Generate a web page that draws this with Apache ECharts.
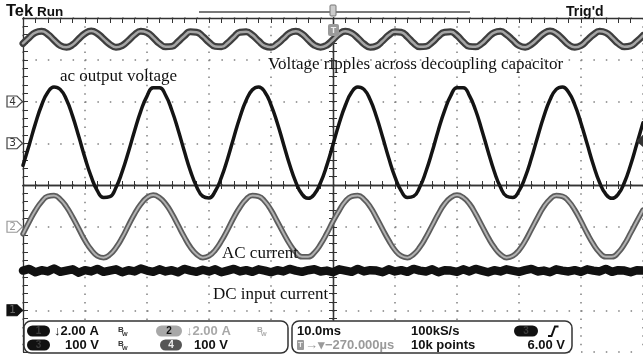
<!DOCTYPE html>
<html><head><meta charset="utf-8">
<script src="https://cdn.jsdelivr.net/npm/echarts@6/dist/echarts.min.js"></script>
<style>html,body{margin:0;padding:0;background:#fff}#c{width:643px;height:355px}</style>
</head><body><div id="c"></div>
<script>
// time in ms (10 ms/div, trigger at 0)
const timeMs = [-50,-49,-48,-47,-46,-45,-44,-43,-42,-41,-40,-39,-38,-37,-36,-35,-34,-33,-32,-31,-30,-29,-28,-27,-26,-25,-24,-23,-22,-21,-20,-19,-18,-17,-16,-15,-14,-13,-12,-11,-10,-9,-8,-7,-6,-5,-4,-3,-2,-1,0,1,2,3,4,5,6,7,8,9,10,11,12,13,14,15,16,17,18,19,20,21,22,23,24,25,26,27,28,29,30,31,32,33,34,35,36,37,38,39,40,41,42,43,44,45,46,47,48,49,50];
// trace positions in screen divisions
const rippleDiv = [3.39,3.53,3.65,3.68,3.61,3.47,3.34,3.30,3.36,3.50,
3.63,3.69,3.63,3.50,3.37,3.30,3.34,3.46,3.60,3.68,
3.65,3.53,3.39,3.31,3.32,3.43,3.57,3.67,3.66,3.56,
3.42,3.32,3.31,3.40,3.54,3.66,3.67,3.59,3.45,3.33,
3.30,3.38,3.51,3.64,3.68,3.62,3.48,3.35,3.30,3.35,
3.48,3.62,3.68,3.64,3.52,3.38,3.30,3.33,3.45,3.59,
3.67,3.66,3.55,3.40,3.31,3.32,3.42,3.56,3.66,3.67,
3.58,3.43,3.32,3.31,3.39,3.53,3.65,3.68,3.60,3.47,
3.34,3.30,3.37,3.50,3.63,3.69,3.63,3.50,3.36,3.30,
3.34,3.47,3.60,3.68,3.65,3.53,3.39,3.31,3.33,3.44,3.58];
const acVoltageDiv = [0.47,0.96,1.47,1.91,2.22,2.35,2.29,2.05,1.65,1.16,
0.65,0.20,-0.14,-0.30,-0.28,-0.06,0.32,0.79,1.30,1.77,
2.13,2.33,2.33,2.15,1.79,1.33,0.82,0.34,-0.04,-0.27,
-0.31,-0.15,0.18,0.63,1.14,1.63,2.03,2.28,2.35,2.23,
1.92,1.49,0.99,0.49,0.07,-0.22,-0.32,-0.22,0.06,0.47,
0.97,1.48,1.91,2.22,2.35,2.29,2.04,1.64,1.15,0.64,
0.19,-0.14,-0.30,-0.27,-0.05,0.33,0.80,1.32,1.78,2.14,
2.33,2.33,2.14,1.79,1.32,0.81,0.33,-0.05,-0.27,-0.30,
-0.14,0.19,0.64,1.15,1.64,2.04,2.29,2.35,2.22,1.92,
1.48,0.98,0.48,0.06,-0.22,-0.32,-0.22,0.06,0.48,0.98,1.49];
const acCurrentDiv = [-1.17,-0.88,-0.61,-0.40,-0.27,-0.25,-0.34,-0.52,-0.77,-1.05,
-1.33,-1.55,-1.70,-1.74,-1.67,-1.50,-1.26,-0.97,-0.69,-0.46,
-0.30,-0.24,-0.30,-0.45,-0.68,-0.96,-1.24,-1.49,-1.66,-1.74,
-1.70,-1.56,-1.34,-1.07,-0.78,-0.53,-0.34,-0.25,-0.27,-0.39,
-0.60,-0.87,-1.15,-1.41,-1.61,-1.72,-1.72,-1.62,-1.42,-1.16,
-0.87,-0.61,-0.39,-0.27,-0.25,-0.34,-0.52,-0.78,-1.06,-1.33,
-1.56,-1.70,-1.74,-1.66,-1.49,-1.25,-0.97,-0.69,-0.45,-0.30,
-0.24,-0.30,-0.45,-0.69,-0.97,-1.25,-1.49,-1.66,-1.74,-1.70,
-1.56,-1.34,-1.06,-0.78,-0.52,-0.34,-0.25,-0.27,-0.39,-0.60,
-0.87,-1.16,-1.42,-1.62,-1.72,-1.72,-1.62,-1.42,-1.15,-0.87,-0.60];
const dcCurrentDiv = [-2.05,-2.01,-2.09,-2.04,-2.07,-2.00,-2.08,-2.05,-2.02,-2.10,
-2.04,-2.07,-2.01,-2.08,-2.05,-2.02,-2.09,-2.04,-2.07,-2.00,
-2.05,-2.08,-2.02,-2.07,-2.04,-2.09,-2.01,-2.05,-2.08,-2.03,
-2.07,-2.02,-2.09,-2.05,-2.01,-2.07,-2.04,-2.08,-2.02,-2.05,
-2.09,-2.04,-2.07,-2.01,-2.05,-2.08,-2.04,-2.02,-2.07,-2.05,
-2.09,-2.02,-2.05,-2.08,-2.01,-2.07,-2.04,-2.05,-2.09,-2.02,
-2.07,-2.04,-2.08,-2.01,-2.05,-2.07,-2.02,-2.09,-2.04,-2.05,
-2.08,-2.02,-2.07,-2.01,-2.05,-2.09,-2.04,-2.07,-2.02,-2.05,
-2.08,-2.04,-2.01,-2.07,-2.05,-2.09,-2.02,-2.05,-2.07,-2.04,
-2.08,-2.02,-2.05,-2.07,-2.01,-2.08,-2.04,-2.05,-2.09,-2.04,-2.05];
// channel ground markers (divisions)
const channelNames = ['1','2','3','4'];
const channelLevels = [-3,-1,1,2];
const annotations = ['ac output voltage','Voltage ripples across decoupling capacitor','AC current','DC input current'];
const readoutRow1 = ['\u21932.00 A','\u21932.00 A','10.0ms','100kS/s'];
const readoutRow2 = ['100 V','100 V','\u2192\u25BE\u2212270.000\u00B5s','10k points','6.00 V'];

const pairs = arr => timeMs.map((t,i)=>[t,arr[i]]);
const chart = echarts.init(document.getElementById('c'), null, {renderer:'canvas'});
const G = {left:23, top:18, width:620, height:334};
const axCol = '#333';
const hiddenLab = {show:false};
const centerX = (pos)=>({gridIndex:0,type:'value',min:-50,max:50,interval:10,position:pos,
  axisLine:{onZero:true,lineStyle:{color:axCol,width:1.3}},
  axisTick:{show:true,inside:true,length:4,lineStyle:{color:axCol,width:1}},
  minorTick:{show:true,splitNumber:5,length:4,lineStyle:{color:axCol,width:1}},
  axisLabel:hiddenLab,splitLine:{show:false}});
const centerY = (pos)=>({gridIndex:0,type:'value',min:-4,max:4,interval:1,position:pos,
  axisLine:{onZero:true,lineStyle:{color:axCol,width:1.3}},
  axisTick:{show:true,inside:true,length:4,lineStyle:{color:axCol,width:1}},
  minorTick:{show:true,splitNumber:5,length:4,lineStyle:{color:axCol,width:1}},
  axisLabel:hiddenLab,splitLine:{show:false}});
const lineS = (arr,color,width,z,smooth)=>({type:'line',xAxisIndex:0,yAxisIndex:0,data:pairs(arr),
  showSymbol:false,symbol:'none',smooth:smooth,silent:true,z:z,lineStyle:{color:color,width:width,join:'round',cap:'round'}});

chart.setOption({
  animation:false,
  backgroundColor:'#fff',
  grid:[Object.assign({},G),Object.assign({},G)],
  xAxis:[centerX('bottom'),centerX('top'),
    {gridIndex:1,type:'value',min:-50,max:50,interval:10,position:'top',
     axisLine:{onZero:false,lineStyle:{color:axCol,width:1.3}},
     axisTick:{show:true,inside:true,length:5,lineStyle:{color:axCol}},
     minorTick:{show:true,splitNumber:5,length:5,lineStyle:{color:axCol}},
     axisLabel:hiddenLab,
     splitLine:{show:true,lineStyle:{color:'#808080',width:1.5,type:[1.5,6.85]}}}],
  yAxis:[centerY('left'),centerY('right'),
    {gridIndex:1,type:'value',min:-4,max:4,interval:1,position:'left',
     axisLine:{onZero:false,lineStyle:{color:axCol,width:1.3}},
     axisTick:{show:true,inside:true,length:5,lineStyle:{color:axCol}},
     minorTick:{show:true,splitNumber:5,length:5,lineStyle:{color:axCol}},
     axisLabel:hiddenLab,
     splitLine:{show:true,lineStyle:{color:'#808080',width:1.5,type:[1.5,10.9]}}}],
  series:[
    lineS(rippleDiv,'#3e3e3e',7,3,true),
    lineS(rippleDiv,'#a6a6a6',2.5,4,true),
    lineS(acVoltageDiv,'#141414',3.5,5,true),
    lineS(acCurrentDiv,'#5c5c5c',5.5,3,true),
    lineS(acCurrentDiv,'#b2b2b2',2,4,true),
    lineS(dcCurrentDiv,'#111',8.5,3,false)
  ]
});

const Z = 100;
const font = (sz,fam,w)=>(w||'bold')+' '+sz+'px '+(fam||'"Liberation Sans", Arial, sans-serif');
function txt(s,x,y,f,fill,align,va){
  return {type:'text',z:Z,x:x,y:y,style:{text:s,font:f,fill:fill,textAlign:align||'left',textVerticalAlign:va||'middle',align:align||'left',verticalAlign:va||'middle'}};
}
function rect(x,y,w,h,r,fill,stroke,lw){
  return {type:'rect',z:Z,shape:{x:x,y:y,width:w,height:h,r:r},style:{fill:fill,stroke:stroke||null,lineWidth:lw||0}};
}
function pill(x,y,w,label,fill,tcol){
  return [rect(x,y,w,11,5.5,fill), txt(label,x+w/2,y+6,font(10),tcol,'center')];
}
function bw(x,y,col){
  return [txt('B',x,y-1,font(8),col,'left'), txt('W',x+4,y+3,font(6),col,'left')];
}
const g = [];
// header
g.push(txt('Tek',6,11,font(16.5),'#111'));
g.push(txt('Run',37,12,font(13.5),'#111'));
g.push(txt("Trig'd",566,12,font(14),'#111'));
g.push({type:'line',z:Z,shape:{x1:199,y1:12,x2:470,y2:12},style:{stroke:'#7a7a7a',lineWidth:2}});
g.push(rect(330,5,6,11,1,'#ccc','#777',1));
g.push(rect(328,24,11,12,2,'#9a9a9a'));
g.push(txt('T',333.5,30.5,font(9),'#eee','center'));
// trigger level arrow at right
g.push({type:'polygon',z:Z,shape:{points:[[643,135],[636,141],[643,147]]},style:{fill:'#333'}});
// channel ground tags
const tagStyle = {'1':['#111','#111','#666'],'2':['#fff','#999','#999'],'3':['#fff','#444','#333'],'4':['#fff','#444','#333']};
channelNames.forEach((n,i)=>{
  const y = chart.convertToPixel({yAxisIndex:0}, channelLevels[i]);
  const s = tagStyle[n];
  g.push({type:'polygon',z:Z,shape:{points:[[7,y-5.5],[17,y-5.5],[22.5,y],[17,y+5.5],[7,y+5.5]]},style:{fill:s[0],stroke:s[1],lineWidth:1.2}});
  g.push(txt(n,12.5,y+0.5,font(10.5,'"DejaVu Sans", sans-serif','normal'),s[2],'center'));
});
// annotations (serif)
const serif = '17px "Liberation Serif", "Times New Roman", serif';
g.push(txt(annotations[0],60,77,serif,'#111'));
g.push(txt(annotations[1],268,65,serif,'#111'));
g.push(txt(annotations[2],222,254,serif,'#111'));
g.push(txt(annotations[3],213,295,serif,'#111'));
// readout panel
g.push(rect(24,321,264,32,7,'#fff','#333',1.5));
g.push(rect(292,321,280,32,7,'#fff','#333',1.5));
const r1 = 331, r2 = 345;
g.push(...pill(27,r1-5.5,23,'1','#111','#3a3a3a'));
g.push(txt(readoutRow1[0],54,r1,font(13),'#111'));
g.push(...bw(118,r1,'#333'));
g.push(...pill(156,r1-5.5,26,'2','#a8a8a8','#111'));
g.push(txt(readoutRow1[1],186,r1,font(13),'#a8a8a8'));
g.push(...bw(257,r1,'#aaa'));
g.push(...pill(27,r2-5.5,23,'3','#111','#3a3a3a'));
g.push(txt(readoutRow2[0],65,r2,font(13),'#111'));
g.push(...bw(118,r2,'#333'));
g.push(...pill(160,r2-5.5,22,'4','#555','#eee'));
g.push(txt(readoutRow2[1],194,r2,font(13),'#111'));
g.push(txt(readoutRow1[2],297,r1,font(13),'#111'));
g.push(txt(readoutRow1[3],411,r1,font(13),'#111'));
g.push(...pill(514,r1-5.5,24,'3','#111','#3a3a3a'));
g.push({type:'polyline',z:Z,shape:{points:[[548,336],[551.5,336],[555,326.5],[558.5,326.5]]},style:{stroke:'#111',lineWidth:2,fill:null}});
g.push(rect(297,r2-5,7,10,1,'#9a9a9a'));
g.push(txt('T',300.5,r2,font(8),'#eee','center'));
g.push(txt(readoutRow2[2],305,r2,font(13),'#9a9a9a'));
g.push(txt(readoutRow2[3],411,r2,font(13),'#111'));
g.push(txt(readoutRow2[4],565,r2,font(13),'#111','right'));

chart.setOption({graphic:g});
</script>
</body></html>
